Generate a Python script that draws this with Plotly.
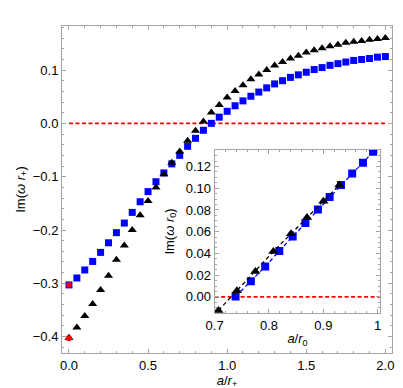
import plotly.graph_objects as go

# ---- main panel data ----
a_main = [round(0.05 * i, 2) for i in range(41)]
blue_main = [-0.303, -0.290, -0.275, -0.259, -0.242, -0.224, -0.205, -0.187, -0.167, -0.147,
             -0.128, -0.1095, -0.093, -0.076, -0.060, -0.043, -0.028, -0.013, 0.000, 0.0116,
             0.0226, 0.033, 0.0422, 0.0508, 0.0587, 0.0666, 0.074, 0.080, 0.0862, 0.091,
             0.0959, 0.1009, 0.1046, 0.1088, 0.112, 0.115, 0.118, 0.1198, 0.1217, 0.1242, 0.1253]
black_main = [-0.402, -0.383, -0.3615, -0.339, -0.3125, -0.286, -0.256, -0.229, -0.200, -0.1725,
              -0.1455, -0.1205, -0.0954, -0.074, -0.0526, -0.0324, -0.014, 0.0037, 0.0202, 0.0342,
              0.0483, 0.0606, 0.0716, 0.0826, 0.0917, 0.1003, 0.1083, 0.115, 0.1217, 0.1266,
              0.1327, 0.137, 0.1407, 0.1444, 0.1473, 0.151, 0.1529, 0.1547, 0.1566, 0.1584, 0.1602]
red_x = [0.0]
red_sq_y = [-0.303]
red_tri_y = [-0.403]
zero_main_x = [0.0, 2.0]

# ---- inset data ----
inset_black_x = [0.707, 0.741, 0.775, 0.808, 0.8405, 0.870, 0.900, 0.9295]
inset_black_y = [-0.0125, 0.0057, 0.0234, 0.0417, 0.058, 0.073, 0.088, 0.103]
inset_blue_x = [0.7386, 0.7667, 0.793, 0.819, 0.8436, 0.867, 0.890, 0.9115, 0.9324, 0.953, 0.9728, 0.9914]
inset_blue_y = [0.0003, 0.0144, 0.0279, 0.0423, 0.0555, 0.068, 0.0804, 0.0919, 0.103, 0.1135, 0.1234, 0.1336]
zero_inset_x = [0.7, 1.005]

main_xticks = [0, 0.5, 1.0, 1.5, 2.0]
main_xticktext = ["0.0", "0.5", "1.0", "1.5", "2.0"]
main_yticks = [-0.4, -0.3, -0.2, -0.1, 0.0, 0.1]
inset_xticks = [0.7, 0.8, 0.9, 1.0]
inset_xticktext = ["0.7", "0.8", "0.9", "1"]
inset_yticks = [0.0, 0.02, 0.04, 0.06, 0.08, 0.10, 0.12]

BLUE = "rgb(0,0,255)"
RED = "rgb(255,0,0)"
FRAME = "rgb(165,165,165)"
FONT = "Liberation Sans"

fig = go.Figure()

fig.add_trace(go.Scatter(x=zero_main_x, y=[0, 0], mode="lines",
                         line=dict(color=RED, width=1.6, dash="4px,2.5px"), xaxis="x", yaxis="y"))
fig.add_trace(go.Scatter(x=a_main, y=blue_main, mode="markers",
                         marker=dict(symbol="square", size=7, color=BLUE), xaxis="x", yaxis="y"))
fig.add_trace(go.Scatter(x=a_main, y=black_main, mode="markers",
                         marker=dict(symbol="triangle-up", size=8, color="black"), xaxis="x", yaxis="y"))
fig.add_trace(go.Scatter(x=red_x, y=red_sq_y, mode="markers",
                         marker=dict(symbol="square", size=5, color=RED), xaxis="x", yaxis="y"))
fig.add_trace(go.Scatter(x=red_x, y=red_tri_y, mode="markers",
                         marker=dict(symbol="circle", size=6, color=RED), xaxis="x", yaxis="y"))

# inset
fig.add_trace(go.Scatter(x=zero_inset_x, y=[0, 0], mode="lines",
                         line=dict(color=RED, width=1.6, dash="4px,2.5px"), xaxis="x2", yaxis="y2"))
fig.add_trace(go.Scatter(x=inset_blue_x, y=inset_blue_y, mode="lines+markers",
                         line=dict(color=BLUE, width=1.3, dash="4px,3px"),
                         marker=dict(symbol="square", size=8, color=BLUE), xaxis="x2", yaxis="y2"))
fig.add_trace(go.Scatter(x=inset_black_x, y=inset_black_y, mode="lines+markers",
                         line=dict(color="black", width=1.3, dash="4px,3px"),
                         marker=dict(symbol="triangle-up", size=9, color="black"),
                         xaxis="x2", yaxis="y2", cliponaxis=True))

common = dict(showline=True, linecolor=FRAME, linewidth=1, mirror="ticks", ticks="inside",
              tickcolor=FRAME, ticklen=4, showgrid=False, zeroline=False,
              tickfont=dict(family=FONT, size=13, color="black"))

fig.update_layout(
    width=403, height=388,
    margin=dict(l=50, r=19, t=18, b=36),
    paper_bgcolor="white", plot_bgcolor="white",
    showlegend=False,
    font=dict(family=FONT, size=13, color="black"),
    xaxis=dict(range=[-0.044, 2.042], tickvals=main_xticks, ticktext=main_xticktext,
               minor=dict(dtick=0.1, tick0=0, ticks="inside", ticklen=2, tickcolor=FRAME),
               title=dict(text="<i>a</i>/<i>r</i><sub>+</sub>", standoff=2,
                          font=dict(family=FONT, size=13)),
               **common),
    yaxis=dict(range=[-0.4307, 0.1826], tickvals=main_yticks, tickformat=".1f",
               minor=dict(dtick=0.02, tick0=0, ticks="inside", ticklen=2, tickcolor=FRAME),
               title=dict(text="Im(<i>ω r</i><sub>+</sub>)", standoff=4,
                          font=dict(family=FONT, size=13)),
               **common),
    xaxis2=dict(domain=[0.4624, 0.965], anchor="y2", range=[0.7, 1.005],
                tickvals=inset_xticks, ticktext=inset_xticktext,
                minor=dict(dtick=0.02, tick0=0.7, ticks="inside", ticklen=2, tickcolor=FRAME),
                title=dict(text="<i>a</i>/<i>r</i><sub>0</sub>", standoff=2,
                           font=dict(family=FONT, size=13)),
                **common),
    yaxis2=dict(domain=[0.1218, 0.6215], anchor="x2", range=[-0.015, 0.1354],
                tickvals=inset_yticks, tickformat=".2f",
                minor=dict(dtick=0.005, tick0=0, ticks="inside", ticklen=2, tickcolor=FRAME),
                title=dict(text="Im(<i>ω r</i><sub>0</sub>)", standoff=8,
                           font=dict(family=FONT, size=13)),
                **common),
)

fig.write_html("out.html")
